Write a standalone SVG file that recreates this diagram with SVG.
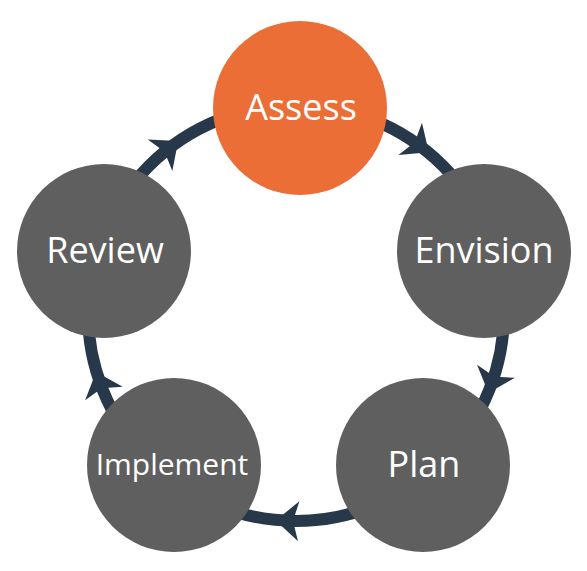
<svg xmlns="http://www.w3.org/2000/svg" xmlns:xlink="http://www.w3.org/1999/xlink" width="587" height="571" viewBox="0 0 587 571">
  <style>
    .ring { fill: none; stroke: #263849; stroke-width: 12; }
    .head { fill: #263849; }
    .node { fill: #5f5f5f; }
    .accent { fill: #eb6e37; }
    .label { font-family: "Open Sans", "Noto Sans", "DejaVu Sans", sans-serif; fill: #ffffff; text-anchor: middle; font-size: 36px; }
    .small { font-size: 30px; }
  </style>
  <defs>
    <path id="ah" d="M13,0 L-10,-20 L-6,-6 L-6,6 L-10,20 Z"/>
  </defs>
  <rect width="587" height="571" fill="#ffffff"/>
  <g id="connectors">
    <circle class="ring" cx="296" cy="313" r="208"/>
    <use xlink:href="#ah" class="head" transform="translate(418.3,144.7) rotate(36)"/>
    <use xlink:href="#ah" class="head" transform="translate(492.7,380.7) rotate(109)"/>
    <use xlink:href="#ah" class="head" transform="translate(288.7,520.9) rotate(182)"/>
    <use xlink:href="#ah" class="head" transform="translate(100.5,384.1) rotate(250)"/>
    <use xlink:href="#ah" class="head" transform="translate(167.9,149.1) rotate(322)"/>
  </g>
  <g id="assess">
    <circle class="accent" cx="300" cy="108" r="87"/>
    <text class="label" x="301" y="120">Assess</text>
  </g>
  <g id="envision">
    <circle class="node" cx="484" cy="251" r="87"/>
    <text class="label" x="484" y="263">Envision</text>
  </g>
  <g id="plan">
    <circle class="node" cx="423" cy="465" r="87"/>
    <text class="label" x="424" y="477">Plan</text>
  </g>
  <g id="implement">
    <circle class="node" cx="174" cy="465" r="87"/>
    <text class="label small" x="172" y="475">Implement</text>
  </g>
  <g id="review">
    <circle class="node" cx="104" cy="251" r="87"/>
    <text class="label" x="105" y="263">Review</text>
  </g>
</svg>
